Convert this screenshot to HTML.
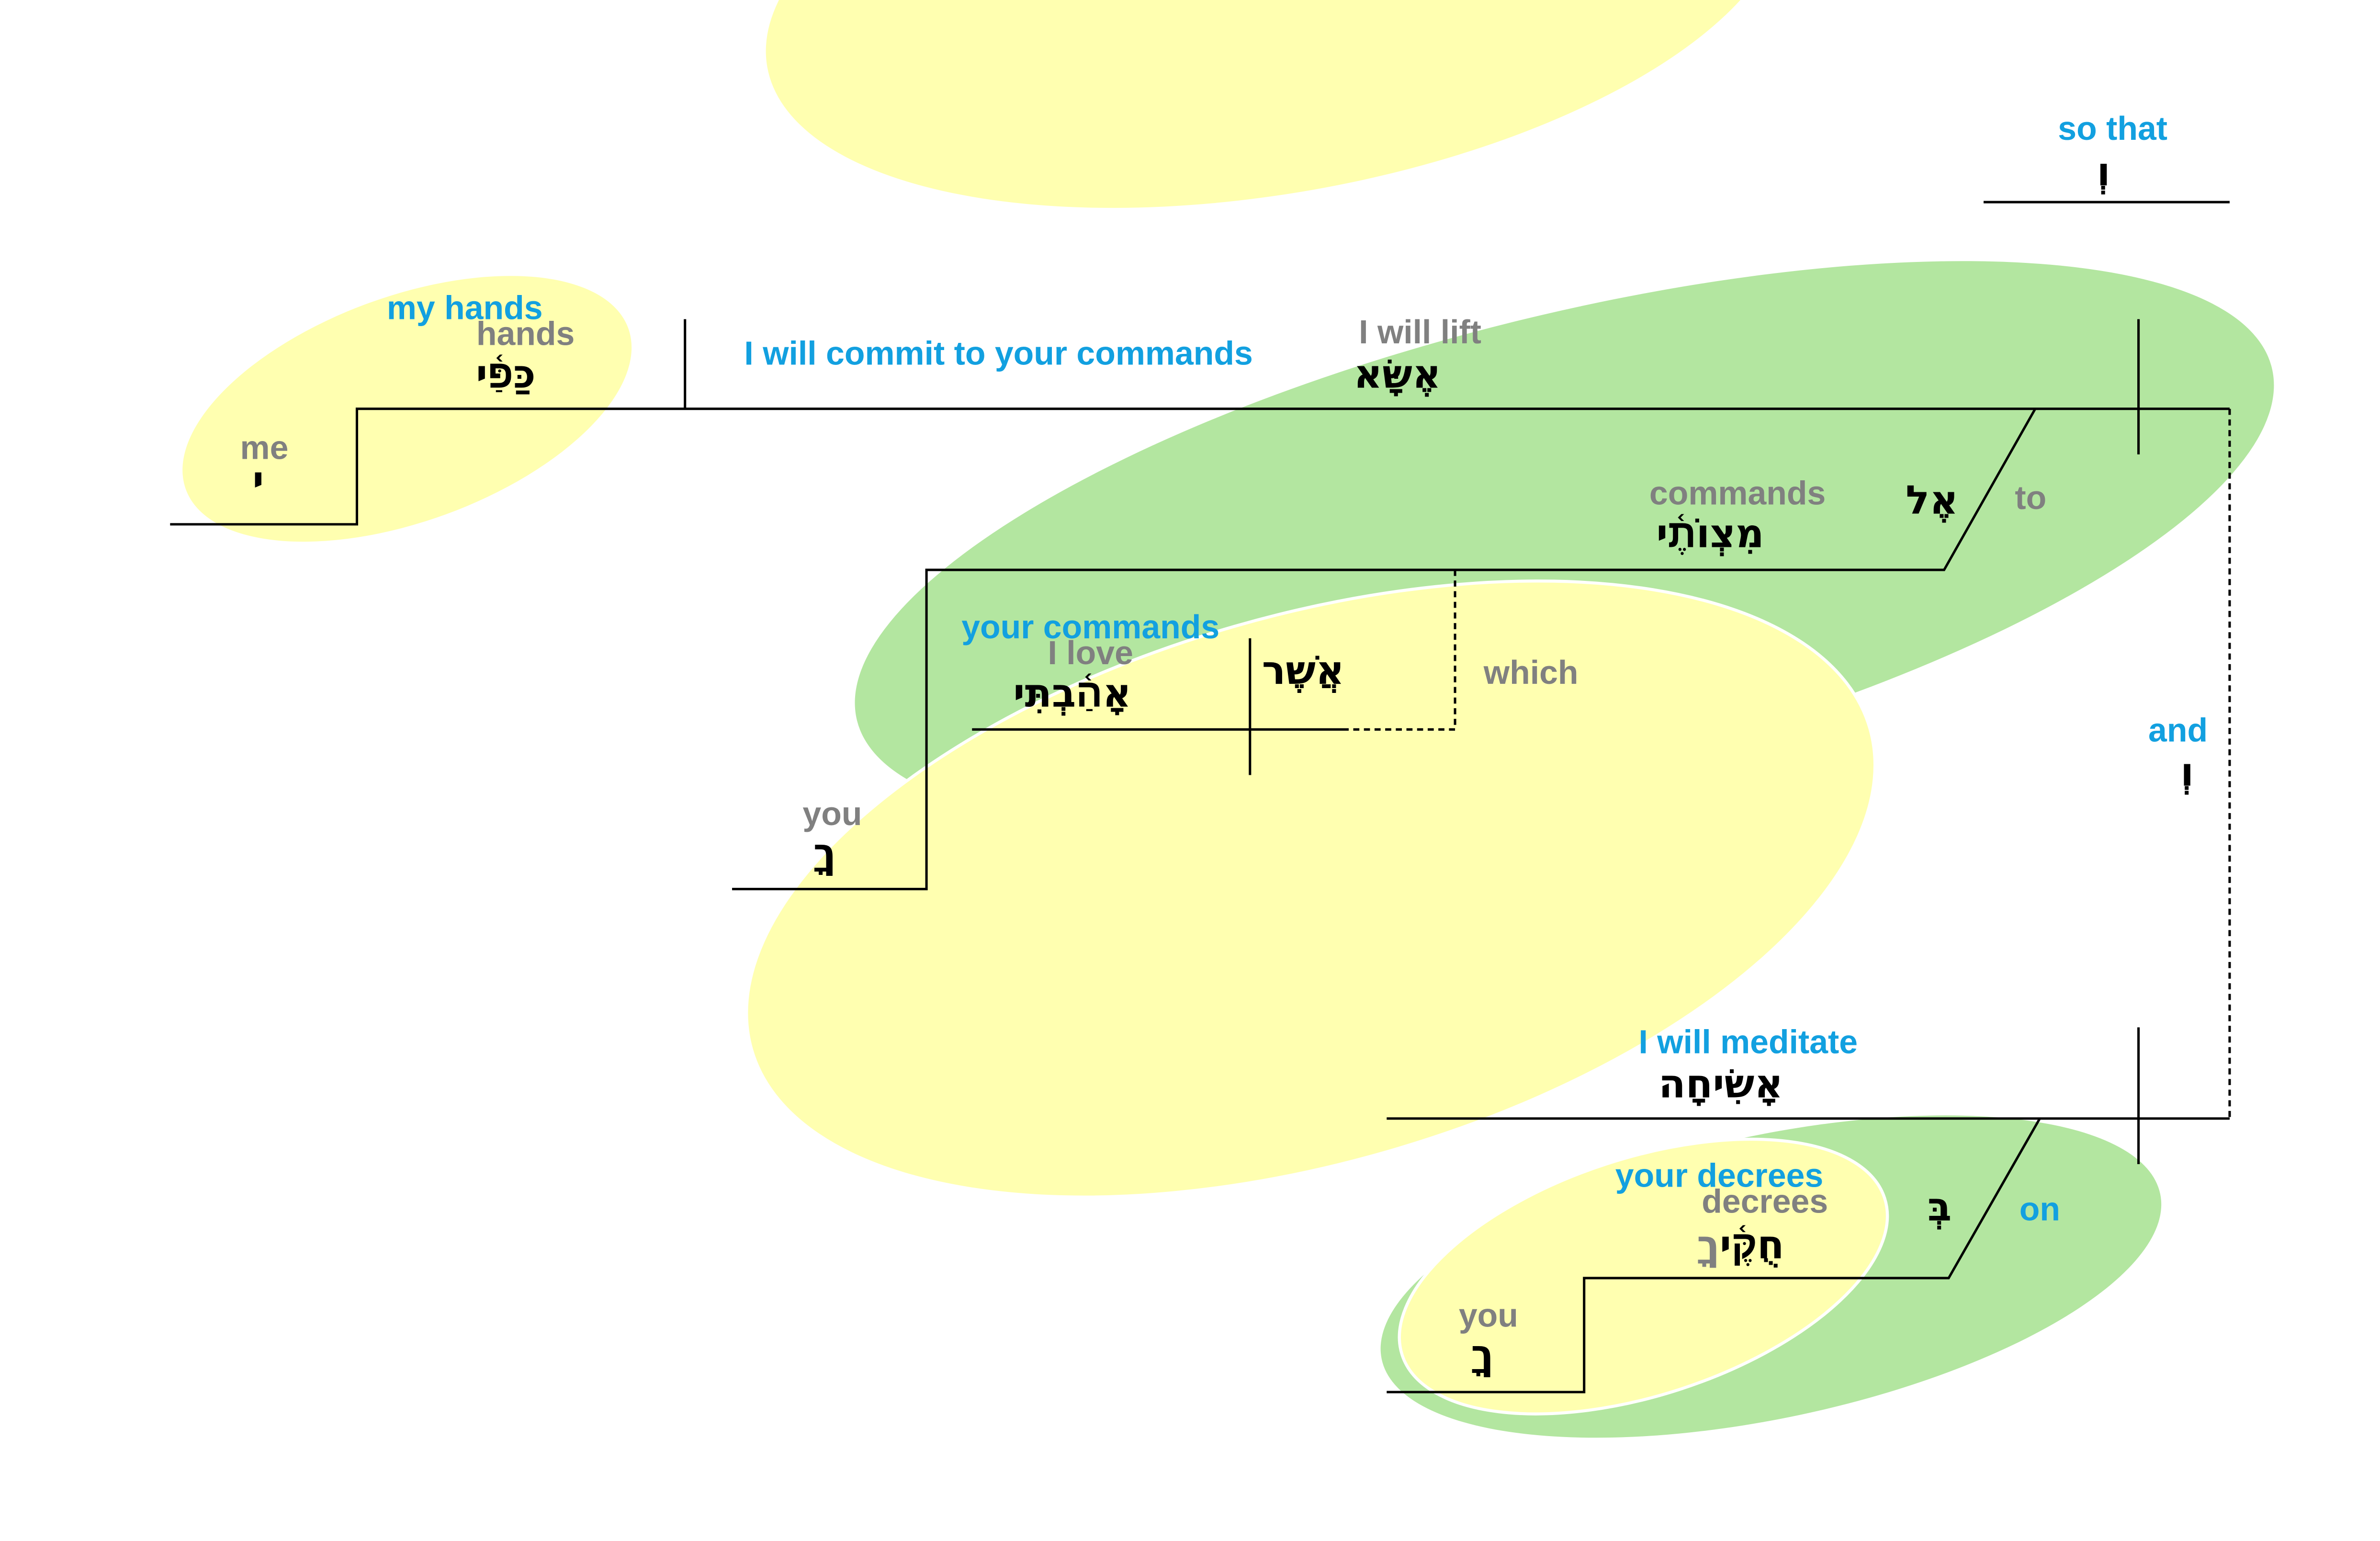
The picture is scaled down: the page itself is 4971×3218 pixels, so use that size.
<!DOCTYPE html>
<html><head><meta charset="utf-8"><style>
html,body{margin:0;padding:0;background:#fff;}
svg{display:block;}
text{font-family:"Liberation Sans","DejaVu Sans",sans-serif;font-weight:bold;}
.b{fill:#12a0e0;font-size:22px;}
.g{fill:#808080;font-size:22px;}
.h{fill:#000;font-size:26px;font-family:"DejaVu Sans","Liberation Sans",sans-serif;}
</style></head><body>
<svg width="4971" height="3218" viewBox="0 0 1567 1014" preserveAspectRatio="none" xmlns="http://www.w3.org/2000/svg">
<rect width="1567" height="1014" fill="#fff"/>
<ellipse cx="840" cy="-15" rx="340" ry="142" transform="rotate(-10 840 -15)" fill="#ffffb0"/>
<ellipse cx="268" cy="269" rx="155" ry="74" transform="rotate(-20 268 269)" fill="#ffffb0"/>
<ellipse cx="1030" cy="358" rx="480" ry="150" transform="rotate(-14 1030 358)" fill="#b3e6a0"/>
<ellipse cx="863" cy="585" rx="383" ry="180" transform="rotate(-16 863 585)" fill="#ffffb0" stroke="#fff" stroke-width="2"/>
<ellipse cx="1166" cy="840" rx="262" ry="93" transform="rotate(-12 1166 840)" fill="#b3e6a0"/>
<ellipse cx="1082" cy="840" rx="167" ry="78" transform="rotate(-18 1082 840)" fill="#ffffb0" stroke="#fff" stroke-width="2"/>
<g stroke="#000" stroke-width="1.6" fill="none">
<polyline points="112,345 235,345 235,269 1468,269"/>
<line x1="451" y1="210" x2="451" y2="269"/>
<line x1="1408" y1="210" x2="1408" y2="299"/>
<polyline points="1340,269 1280,375 610,375 610,585 482,585"/>
<line x1="640" y1="480" x2="888" y2="480"/>
<line x1="823" y1="420" x2="823" y2="510"/>
<line x1="1306" y1="133" x2="1468" y2="133"/>
<line x1="913" y1="736" x2="1468" y2="736"/>
<line x1="1408" y1="676" x2="1408" y2="766"/>
<polyline points="1343,736 1283,841 1043,841 1043,916 913,916"/>
</g>
<g stroke="#000" stroke-width="1.6" fill="none" stroke-dasharray="4,3">
<polyline points="958,375 958,480 888,480"/>
<line x1="1468" y1="269" x2="1468" y2="736"/>
</g>
<text class="b" x="306" y="210" text-anchor="middle">my hands</text>
<text class="g" x="346" y="227" text-anchor="middle">hands</text>
<text class="h" x="333" y="255" text-anchor="middle">כַּפַּ֫י</text>
<text class="g" x="174" y="302" text-anchor="middle">me</text>
<text class="h" x="170" y="325" text-anchor="middle">י</text>
<text class="b" x="490" y="240">I will commit to your commands</text>
<text class="g" x="935" y="226" text-anchor="middle">I will lift</text>
<text class="h" x="920" y="255" text-anchor="middle">אֶשָּׂא</text>
<text class="b" x="1391" y="92" text-anchor="middle">so that</text>
<text class="h" x="1385" y="122" text-anchor="middle">וְ</text>
<text class="g" x="1144" y="332" text-anchor="middle">commands</text>
<text class="h" x="1126" y="360" text-anchor="middle">מִצְוֹתֶ֫י</text>
<text class="h" x="1272" y="338" text-anchor="middle">אֶל</text>
<text class="g" x="1337" y="335" text-anchor="middle">to</text>
<text class="b" x="718" y="420" text-anchor="middle">your commands</text>
<text class="g" x="718" y="437" text-anchor="middle">I love</text>
<text class="h" x="706" y="465" text-anchor="middle">אָהַ֫בְתִּי</text>
<text class="h" x="858" y="450" text-anchor="middle">אֲשֶׁר</text>
<text class="g" x="1008" y="450" text-anchor="middle">which</text>
<text class="g" x="548" y="543" text-anchor="middle">you</text>
<text class="h" x="543" y="570" text-anchor="middle">ךָ</text>
<text class="b" x="1434" y="488" text-anchor="middle">and</text>
<text class="h" x="1440" y="517" text-anchor="middle">וְ</text>
<text class="b" x="1151" y="693" text-anchor="middle">I will meditate</text>
<text class="h" x="1133" y="722" text-anchor="middle">אָשִׂיחָה</text>
<text class="b" x="1132" y="781" text-anchor="middle">your decrees</text>
<text class="g" x="1162" y="798" text-anchor="middle">decrees</text>
<text class="h" x="1146" y="828" text-anchor="middle">חֻקֶּ֫י<tspan fill="#808080">ךָ</tspan></text>
<text class="h" x="1277" y="803" text-anchor="middle">בְּ</text>
<text class="b" x="1343" y="803" text-anchor="middle">on</text>
<text class="g" x="980" y="873" text-anchor="middle">you</text>
<text class="h" x="976" y="900" text-anchor="middle">ךָ</text>
</svg>
</body></html>
